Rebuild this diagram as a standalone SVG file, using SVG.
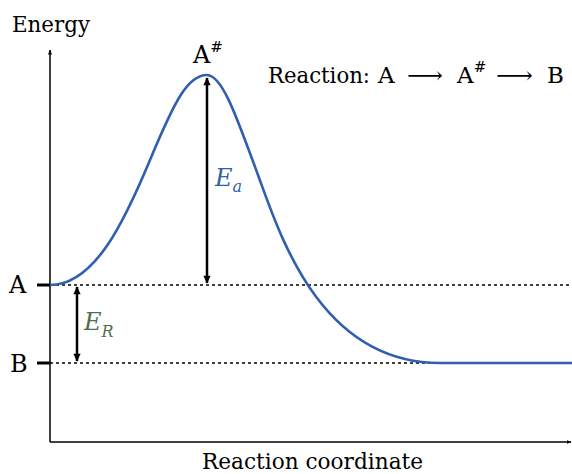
<svg xmlns="http://www.w3.org/2000/svg" width="572" height="474" viewBox="0 0 572 474">
<style>
text{font-family:'DejaVu Serif',serif;fill:#000}
.ax{stroke:#000;stroke-width:1.5;fill:none}
.dot{stroke:#000;stroke-width:1.5;stroke-dasharray:3 3;fill:none}
.tick{stroke:#000;stroke-width:3}
.dim{stroke:#000;stroke-width:2.5;fill:none}
.curve{stroke:#2f5fae;stroke-width:2.6;fill:none}
text.ea{fill:#2f5fae;font-style:italic}
text.er{fill:#4f6e4f;font-style:italic}
</style>
<defs>
<marker id="ah" viewBox="0 0 10 10" refX="9" refY="5" markerWidth="5" markerHeight="5" orient="auto-start-reverse" markerUnits="userSpaceOnUse">
<path d="M0,1 L10,5 L0,9 z" fill="#000"/>
</marker>
<marker id="dh" viewBox="0 0 10 10" refX="9" refY="5" markerWidth="10" markerHeight="8" orient="auto-start-reverse" markerUnits="userSpaceOnUse">
<path d="M0,0.5 L10,5 L0,9.5 z" fill="#000"/>
</marker>
</defs>
<g id="axes">
<line class="ax" x1="50" y1="442" x2="50" y2="50" marker-end="url(#ah)"/>
<line class="ax" x1="50" y1="442" x2="571" y2="442" marker-end="url(#ah)"/>
<line class="tick" x1="37" y1="285" x2="50" y2="285"/>
<line class="tick" x1="37" y1="363" x2="50" y2="363"/>
<text x="12" y="32" font-size="23" textLength="78" lengthAdjust="spacingAndGlyphs">Energy</text>
<text x="202" y="469" font-size="23" textLength="221" lengthAdjust="spacingAndGlyphs">Reaction coordinate</text>
<text x="9" y="293" font-size="24">A</text>
<text x="10" y="372" font-size="24">B</text>
</g>
<g id="levels">
<line class="dot" x1="50" y1="285" x2="572" y2="285"/>
<line class="dot" x1="50" y1="363" x2="572" y2="363"/>
</g>
<g id="curve">
<path class="curve" d="M50,285 C95,285 125,220 150,160 C175,100 188,75 207,75 C222,75 236,115 258,175 C280,235 320,363 440,363 L572,363"/>
</g>
<g id="peak">
<text x="193" y="63" font-size="24">A<tspan font-size="15" dy="-11">#</tspan></text>
</g>
<g id="connectors">
<line class="dim" x1="207" y1="78" x2="207" y2="283" marker-start="url(#dh)" marker-end="url(#dh)"/>
<line class="dim" x1="77" y1="287" x2="77" y2="361" marker-start="url(#dh)" marker-end="url(#dh)"/>
</g>
<g id="labels">
<text class="ea" x="215" y="186" font-size="24">E<tspan font-size="16" dy="6">a</tspan></text>
<text class="er" x="84" y="330" font-size="24">E<tspan font-size="16" dy="7">R</tspan></text>
</g>
<g id="reaction">
<text y="83" font-size="23"><tspan x="268" textLength="102" lengthAdjust="spacingAndGlyphs">Reaction:</tspan><tspan x="378">A</tspan><tspan x="407" textLength="36" lengthAdjust="spacingAndGlyphs">⟶</tspan><tspan x="457">A</tspan><tspan font-size="15" dy="-11">#</tspan><tspan x="496" dy="11" textLength="37" lengthAdjust="spacingAndGlyphs">⟶</tspan><tspan x="547">B</tspan></text>
</g>
</svg>
